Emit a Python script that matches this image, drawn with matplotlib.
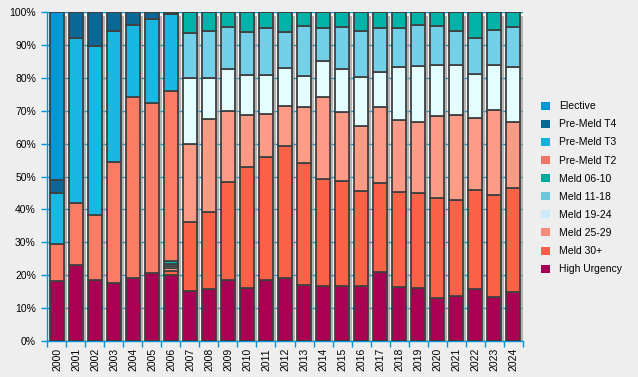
import numpy as np
import matplotlib.pyplot as plt
from matplotlib.patches import Patch

plt.rcParams['font.family'] = ['Liberation Sans', 'DejaVu Sans']

years = [str(y) for y in range(2000, 2025)]

# percentages per year, bottom of the stack first
high_urgency = [18.2, 23.0, 18.4, 17.5, 19.0, 20.6, 20.1, 15.2, 15.8, 18.4, 16.0, 18.4, 19.0,
                16.9, 16.6, 16.6, 16.6, 20.9, 16.4, 16.0, 13.0, 13.6, 15.8, 13.4, 14.8]
meld_30 = [0, 0, 0, 0, 0, 0, 1.3, 20.9, 23.3, 29.8, 36.8, 37.4, 40.2,
           37.1, 32.5, 31.9, 29.1, 27.0, 28.8, 28.9, 30.4, 29.2, 30.2, 30.9, 31.6]
meld_25_29 = [0, 0, 0, 0, 0, 0, 0.9, 23.7, 28.4, 21.6, 15.8, 13.1, 12.1,
              17.0, 25.2, 21.0, 19.5, 23.1, 21.9, 21.6, 24.9, 25.8, 21.7, 25.8, 20.1]
meld_19_24 = [0, 0, 0, 0, 0, 0, 0.6, 20.0, 12.3, 12.8, 12.1, 12.1, 11.6,
              9.4, 10.7, 13.1, 14.9, 10.7, 16.1, 17.0, 15.7, 15.4, 13.6, 13.9, 16.7]
meld_11_18 = [0, 0, 0, 0, 0, 0, 0.5, 13.7, 14.3, 12.7, 13.1, 14.0, 10.9,
              15.2, 10.0, 12.7, 14.0, 13.3, 11.8, 12.7, 11.6, 10.1, 10.7, 10.6, 12.1]
meld_06_10 = [0, 0, 0, 0, 0, 0, 0.8, 6.5, 5.9, 4.7, 6.2, 5.0, 6.2,
              4.4, 5.0, 4.7, 5.9, 5.0, 5.0, 3.8, 4.4, 5.9, 8.0, 5.4, 4.7]
pre_meld_t2 = [11.3, 18.8, 19.8, 36.8, 55.3, 51.6, 51.7] + [0] * 18
pre_meld_t3 = [15.4, 50.2, 51.4, 39.8, 21.9, 25.6, 23.4] + [0] * 18
pre_meld_t4 = [4.0, 8.0, 10.4, 5.9, 3.8, 2.2, 0.7] + [0] * 18
elective = [51.1] + [0] * 24

series = [
    ("High Urgency", high_urgency, "#aa0054"),
    ("Meld 30+", meld_30, "#fb6246"),
    ("Meld 25-29", meld_25_29, "#fd9c86"),
    ("Meld 19-24", meld_19_24, "#e4fdff"),
    ("Meld 11-18", meld_11_18, "#74d0e8"),
    ("Meld 06-10", meld_06_10, "#00b2a8"),
    ("Pre-Meld T2", pre_meld_t2, "#fb7c64"),
    ("Pre-Meld T3", pre_meld_t3, "#18b8e2"),
    ("Pre-Meld T4", pre_meld_t4, "#0a6898"),
    ("Elective", elective, "#0098d8"),
]
legend_colors = {
    "High Urgency": "#a0005a", "Meld 30+": "#f4604a", "Meld 25-29": "#f58c7a",
    "Meld 19-24": "#cde9fa", "Meld 11-18": "#6ec6da", "Meld 06-10": "#00a99d",
    "Pre-Meld T2": "#f07464", "Pre-Meld T3": "#1aafd8", "Pre-Meld T4": "#0a6496",
    "Elective": "#0096d6",
}

blue = "#0096d8"
fig = plt.figure(figsize=(6.38, 3.77), dpi=100, facecolor="#eeeeee")
ax = fig.add_axes([47 / 638, 1 - 341 / 377, 476 / 638, 329 / 377])
ax.set_facecolor("#f3f3f3")

x = np.arange(len(years))
width = 0.735

# drop shadow behind each column
totals = np.sum([s[1] for s in series], axis=0)
ax.bar(x + 0.17, totals - 0.6, width, bottom=-0.6, color="#9a9a9a", alpha=0.7, zorder=2)

bottom = np.zeros(len(years))
for name, vals, color in series:
    vals = np.array(vals, dtype=float)
    ax.bar(x, vals, width, bottom=bottom, color=color, edgecolor="#404040",
           linewidth=1.3, zorder=3)
    bottom += vals

ax.set_xlim(-0.525, len(years) - 0.475)
ax.set_ylim(0, 100)
ax.set_yticks(np.arange(0, 101, 10))
ax.set_yticklabels([f"{v}%" for v in range(0, 101, 10)], fontsize=7.5)
ax.yaxis.grid(True, color=blue, linewidth=1, zorder=0)
ax.set_axisbelow(True)

ax.set_xticks(x)
ax.set_xticklabels(years, rotation=90, fontsize=7.5)
ax.tick_params(axis="x", which="major", length=0, pad=5)
ax.set_xticks(np.arange(-0.5, len(years), 1), minor=True)
ax.tick_params(axis="x", which="minor", length=4, color=blue, width=1)
ax.tick_params(axis="y", length=4, color=blue, width=1, pad=4)

for side in ["top", "right"]:
    ax.spines[side].set_visible(False)
for side in ["left", "bottom"]:
    ax.spines[side].set_color(blue)
    ax.spines[side].set_linewidth(1)

handles = [Patch(facecolor=legend_colors[name], edgecolor="none", label=name)
           for name, _, _ in reversed(series)]
fig.legend(handles=handles, loc="upper left", bbox_to_anchor=(536 / 638, 1 - 96 / 377),
           frameon=False, fontsize=7.5, handlelength=0.8, handleheight=0.8,
           handletextpad=0.9, labelspacing=0.78, borderpad=0)

fig.savefig("out.png", dpi=100, facecolor=fig.get_facecolor())
